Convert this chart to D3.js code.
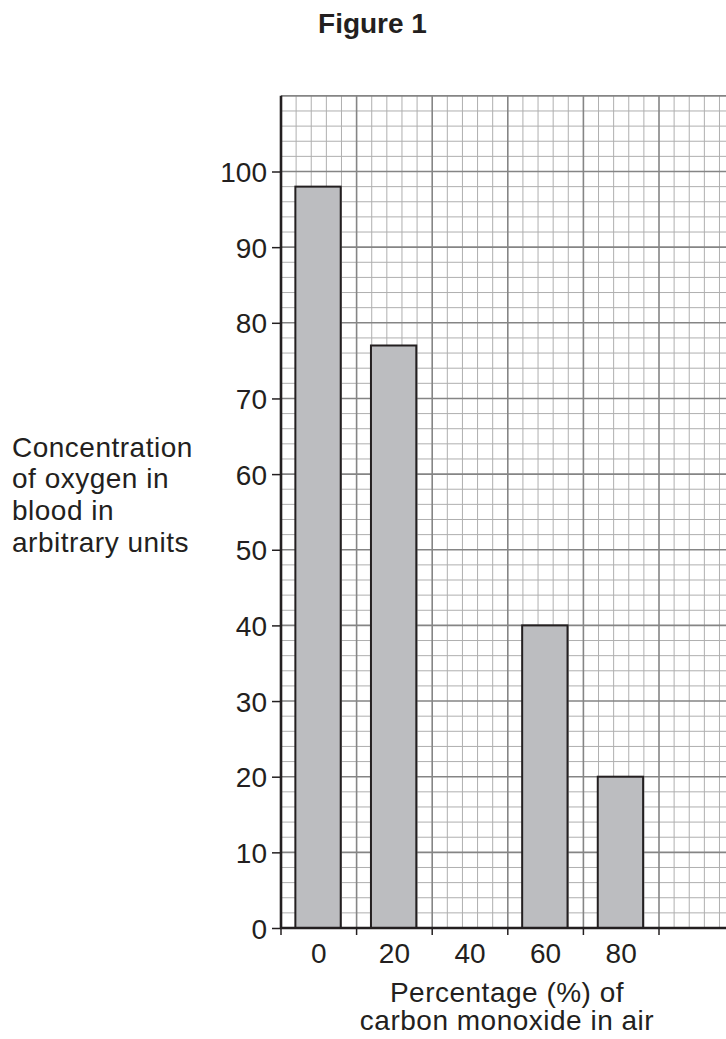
<!DOCTYPE html>
<html>
<head>
<meta charset="utf-8">
<script src="https://cdn.jsdelivr.net/npm/d3@7"></script>
<style>
  html, body { margin: 0; padding: 0; background: #fff; }
  svg { display: block; }
  text { font-family: "Liberation Sans", Arial, sans-serif; fill: #231f20; }
</style>
</head>
<body>
<svg id="chart" width="726" height="1039"></svg>
<script>
// ---- data ----
const categories = ["0", "20", "40", "60", "80"];
const values = [98, 77, null, 40, 20];
const yTicks = [0, 10, 20, 30, 40, 50, 60, 70, 80, 90, 100];
const titleText = "Figure 1";
const yTitleLines = ["Concentration", "of oxygen in", "blood in", "arbitrary units"];
const xTitleLines = ["Percentage (%) of", "carbon monoxide in air"];

// ---- layout ----
const svg = d3.select("#chart");
const x0 = 281, step = 75.6, nBands = 6;
const yBottom = 928, pxPerUnit = 7.565, yMax = 110;

const y = d3.scaleLinear().domain([0, yMax]).range([yBottom, yBottom - yMax * pxPerUnit]);
const x = d3.scaleBand().domain(categories).range([x0, x0 + step * categories.length]).padding(0);
const xg = d3.scaleLinear().domain([0, nBands * 5]).range([x0, x0 + nBands * step]);

const gGrid = svg.append("g");
// minor horizontal
const yMinor = d3.range(0, yMax + 1, 2);
gGrid.selectAll("line.hmin").data(yMinor.filter(v => v % 10 !== 0 && v !== yMax)).join("line")
  .attr("x1", xg(0)).attr("x2", xg(nBands * 5))
  .attr("y1", d => y(d)).attr("y2", d => y(d))
  .attr("stroke", "#afafaf").attr("stroke-width", 1);
// minor vertical
const xMinor = d3.range(0, nBands * 5 + 1, 1);
gGrid.selectAll("line.vmin").data(xMinor.filter(v => v % 5 !== 0)).join("line")
  .attr("x1", d => xg(d)).attr("x2", d => xg(d))
  .attr("y1", y(0)).attr("y2", y(yMax))
  .attr("stroke", "#afafaf").attr("stroke-width", 1);
// major horizontal
gGrid.selectAll("line.hmaj").data(yMinor.filter(v => v % 10 === 0 || v === yMax)).join("line")
  .attr("x1", xg(0)).attr("x2", xg(nBands * 5))
  .attr("y1", d => y(d)).attr("y2", d => y(d))
  .attr("stroke", "#858585").attr("stroke-width", 1.6);
// major vertical
gGrid.selectAll("line.vmaj").data(xMinor.filter(v => v % 5 === 0 && v > 0)).join("line")
  .attr("x1", d => xg(d)).attr("x2", d => xg(d))
  .attr("y1", y(0)).attr("y2", y(yMax))
  .attr("stroke", "#858585").attr("stroke-width", 1.6);

// bars
const bw = x.bandwidth();
svg.append("g").selectAll("rect").data(categories.map((c, i) => ({c, v: values[i]})).filter(d => d.v != null))
  .join("rect")
  .attr("x", d => x(d.c) + bw * 0.19)
  .attr("width", bw * 0.6)
  .attr("y", d => y(d.v))
  .attr("height", d => y(0) - y(d.v))
  .attr("fill", "#bcbdc0")
  .attr("stroke", "#231f20")
  .attr("stroke-width", 2);

// y axis
const yAxis = d3.axisLeft(y).tickValues(yTicks).tickSize(9).tickPadding(5);
const gy = svg.append("g").attr("transform", `translate(${x0},0)`).call(yAxis);
gy.select(".domain").remove();
gy.selectAll(".tick line").attr("stroke", "#231f20").attr("stroke-width", 1.5);
gy.selectAll(".tick text").attr("font-size", 28).attr("font-family", "Liberation Sans, Arial, sans-serif").attr("fill", "#231f20").attr("dy", "0.36em");

// x axis: ticks at band boundaries, labels at band centres
const gx = svg.append("g").attr("transform", `translate(0,${y(0)})`);
gx.selectAll("line.tk").data(d3.range(0, nBands * 5 + 1, 5)).join("line")
  .attr("x1", d => xg(d)).attr("x2", d => xg(d))
  .attr("y1", 0).attr("y2", 7)
  .attr("stroke", "#231f20").attr("stroke-width", 1.5);
gx.selectAll("text").data(categories).join("text")
  .attr("x", d => x(d) + bw / 2)
  .attr("y", 35)
  .attr("text-anchor", "middle")
  .attr("font-size", 28)
  .text(d => d);

// axis lines
svg.append("line").attr("x1", x0).attr("x2", x0).attr("y1", y(0) + 1).attr("y2", y(yMax))
  .attr("stroke", "#231f20").attr("stroke-width", 2.6);
svg.append("line").attr("x1", x0 - 1).attr("x2", xg(nBands * 5)).attr("y1", y(0)).attr("y2", y(0))
  .attr("stroke", "#231f20").attr("stroke-width", 2.6);

// titles
svg.append("text").attr("x", 372.5).attr("y", 33).attr("text-anchor", "middle")
  .attr("font-size", 28).attr("font-weight", "bold").text(titleText);

svg.append("g").selectAll("text").data(yTitleLines).join("text")
  .attr("x", 12).attr("y", (d, i) => 456.5 + i * 31.7)
  .attr("font-size", 28).attr("letter-spacing", 0.5).text(d => d);

svg.append("g").selectAll("text").data(xTitleLines).join("text")
  .attr("x", 507).attr("y", (d, i) => 1001.7 + i * 28.3)
  .attr("text-anchor", "middle")
  .attr("font-size", 28).attr("letter-spacing", 0.5).text(d => d);
</script>
</body>
</html>
